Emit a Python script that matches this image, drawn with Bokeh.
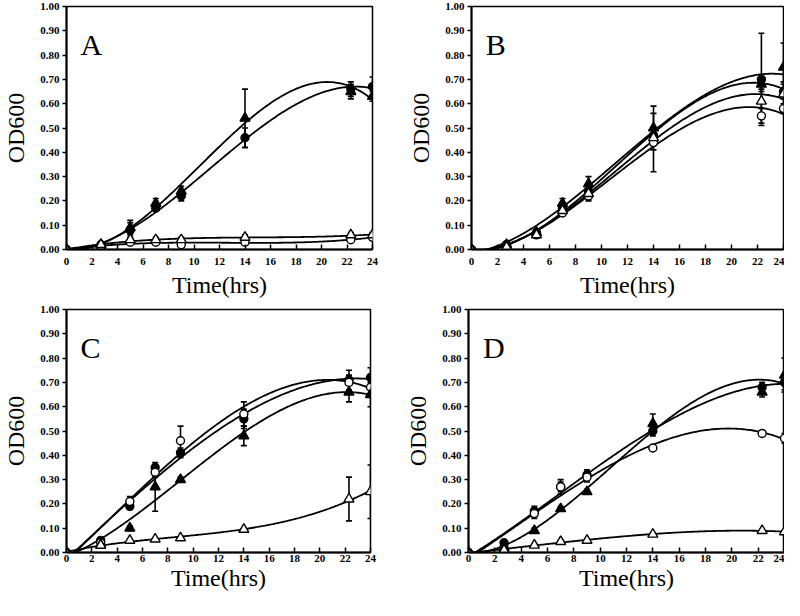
import numpy as np
from bokeh.plotting import figure
from bokeh.layouts import column, row
from bokeh.models import (ColumnDataSource, Whisker, TeeHead, Label, FixedTicker,
                          NumeralTickFormatter, Range1d)
from bokeh.embed import file_html
from bokeh.resources import INLINE

# ---------------- data ----------------
times = [0, 2.7, 5, 7, 9, 14, 22.3, 24]
x_ticks = [0, 2, 4, 6, 8, 10, 12, 14, 16, 18, 20, 22, 24]
y_ticks = [0.0, 0.1, 0.2, 0.3, 0.4, 0.5, 0.6, 0.7, 0.8, 0.9, 1.0]
panel_letters = ["A", "B", "C", "D"]

# Panel A
a_fc = [0.00, 0.02, 0.08, 0.17, 0.22, 0.46, 0.66, 0.67]
a_fc_err = [0.00, 0.01, 0.03, 0.01, 0.02, 0.04, 0.03, 0.04]
a_oc = [0.00, 0.01, 0.03, 0.03, 0.02, 0.03, 0.04, 0.05]
a_oc_err = [0.00, 0.005, 0.005, 0.005, 0.01, 0.01, 0.005, 0.005]
a_ft = [0.00, 0.02, 0.09, 0.19, 0.24, 0.54, 0.65, 0.63]
a_ft_err = [0.00, 0.01, 0.03, 0.02, 0.02, 0.12, 0.03, 0.02]
a_ot = [0.00, 0.02, 0.04, 0.04, 0.04, 0.05, 0.06, 0.06]
a_ot_err = [0.00, 0.005, 0.005, 0.01, 0.01, 0.01, 0.01, 0.01]

# Panel B
b_fc = [0.00, 0.02, 0.07, 0.17, 0.24, 0.47, 0.70, 0.65]
b_fc_err = [0.00, 0.01, 0.01, 0.02, 0.03, 0.03, 0.19, 0.03]
b_oc = [0.00, 0.02, 0.06, 0.15, 0.22, 0.44, 0.55, 0.58]
b_oc_err = [0.00, 0.01, 0.01, 0.01, 0.02, 0.12, 0.03, 0.02]
b_ft = [0.00, 0.02, 0.07, 0.19, 0.27, 0.50, 0.68, 0.75]
b_ft_err = [0.00, 0.01, 0.01, 0.02, 0.03, 0.09, 0.03, 0.10]
b_ot = [0.00, 0.01, 0.06, 0.16, 0.23, 0.46, 0.61, 0.64]
b_ot_err = [0.00, 0.01, 0.01, 0.01, 0.02, 0.02, 0.05, 0.05]

# Panel C
c_fc = [0.00, 0.05, 0.19, 0.35, 0.41, 0.55, 0.71, 0.72]
c_fc_err = [0.00, 0.01, 0.01, 0.01, 0.02, 0.04, 0.04, 0.04]
c_oc = [0.00, 0.04, 0.21, 0.33, 0.46, 0.57, 0.70, 0.68]
c_oc_err = [0.00, 0.01, 0.02, 0.02, 0.06, 0.05, 0.03, 0.03]
c_ft = [0.00, 0.03, 0.10, 0.27, 0.30, 0.48, 0.66, 0.65]
c_ft_err = [0.00, 0.01, 0.01, 0.10, 0.01, 0.04, 0.04, 0.05]
c_ot = [0.00, 0.03, 0.05, 0.055, 0.06, 0.095, 0.22, 0.25]
c_ot_err = [0.00, 0.01, 0.005, 0.005, 0.005, 0.005, 0.09, 0.11]

# Panel D
d_fc = [0.00, 0.04, 0.17, 0.27, 0.32, 0.50, 0.68, 0.70]
d_fc_err = [0.00, 0.01, 0.02, 0.03, 0.02, 0.02, 0.02, 0.03]
d_oc = [0.00, 0.02, 0.16, 0.27, 0.31, 0.43, 0.49, 0.47]
d_oc_err = [0.00, 0.01, 0.02, 0.02, 0.02, 0.01, 0.01, 0.02]
d_ft = [0.00, 0.02, 0.09, 0.18, 0.25, 0.53, 0.66, 0.73]
d_ft_err = [0.00, 0.01, 0.01, 0.01, 0.01, 0.04, 0.02, 0.07]
d_ot = [0.00, 0.01, 0.03, 0.045, 0.05, 0.075, 0.09, 0.085]
d_ot_err = [0.00, 0.005, 0.005, 0.005, 0.005, 0.005, 0.005, 0.005]

SERIF = "Liberation Serif"


def build(letter, series, borders, tick_standoff, xlabel_standoff, ylabel_standoff):
    left, right, top, bottom = borders
    p = figure(width=392, height=300, x_range=Range1d(0, 24), y_range=Range1d(0, 1),
               output_backend="svg", toolbar_location=None,
               min_border_left=left, min_border_right=right,
               min_border_top=top, min_border_bottom=bottom,
               background_fill_color="white", border_fill_color="white")
    p.xgrid.visible = False
    p.ygrid.visible = False
    p.outline_line_color = "black"
    p.outline_line_width = 1.5
    p.outline_line_alpha = 1.0

    p.xaxis.ticker = FixedTicker(ticks=x_ticks, minor_ticks=[])
    p.yaxis.ticker = FixedTicker(ticks=y_ticks, minor_ticks=[])
    p.yaxis.formatter = NumeralTickFormatter(format="0.00")
    for ax in (p.xaxis[0], p.yaxis[0]):
        ax.axis_line_width = 2
        ax.axis_line_color = "black"
        ax.major_tick_line_width = 1.5
        ax.major_tick_line_color = "black"
        ax.minor_tick_line_color = None
        ax.major_label_text_font = SERIF
        ax.major_label_text_font_style = "bold"
        ax.major_label_text_font_size = "11px"
        ax.major_label_text_color = "black"
        ax.axis_label_text_font = SERIF
        ax.axis_label_text_font_style = "normal"
        ax.axis_label_text_font_size = "24px"
        ax.axis_label_text_color = "black"
    p.xaxis.major_tick_in = 5
    p.xaxis.major_tick_out = 0
    p.yaxis.major_tick_in = 0
    p.yaxis.major_tick_out = 4
    p.xaxis.major_label_standoff = tick_standoff
    p.yaxis.major_label_standoff = 3
    p.xaxis.axis_label = "Time(hrs)"
    p.yaxis.axis_label = "OD600"
    p.xaxis.axis_label_standoff = xlabel_standoff
    p.yaxis.axis_label_standoff = ylabel_standoff

    xs = np.linspace(0, 24, 200)
    t = np.array(times, dtype=float)
    # fitted trend curves
    for vals, errs, marker, filled in series:
        coeffs = np.polyfit(t, np.array(vals, dtype=float), 3)
        p.line(xs, np.polyval(coeffs, xs), line_color="black", line_width=1.8)

    # error bars
    for vals, errs, marker, filled in series:
        v = np.array(vals, dtype=float)
        e = np.array(errs, dtype=float)
        m = e > 0
        src = ColumnDataSource(dict(base=t[m], upper=(v + e)[m], lower=(v - e)[m]))
        w = Whisker(source=src, base="base", upper="upper", lower="lower",
                    dimension="height", line_color="black", line_width=1.6,
                    upper_head=TeeHead(size=6, line_width=1.6, line_color="black"),
                    lower_head=TeeHead(size=6, line_width=1.6, line_color="black"))
        p.add_layout(w)

    # markers
    for vals, errs, marker, filled in series:
        size = 8 if marker == "circle" else 10
        p.scatter(times, vals, marker=marker, size=size,
                  fill_color="black" if filled else "white",
                  line_color="black", line_width=1.4)

    p.add_layout(Label(x=1.1, y=0.845, text=letter, text_font=SERIF,
                       text_font_size="30px", text_color="black",
                       text_baseline="alphabetic"))
    return p


def series_of(fc, fce, oc, oce, ft, fte, ot, ote):
    return [(fc, fce, "circle", True), (oc, oce, "circle", False),
            (ft, fte, "triangle", True), (ot, ote, "triangle", False)]


pA = build(panel_letters[0], series_of(a_fc, a_fc_err, a_oc, a_oc_err, a_ft, a_ft_err, a_ot, a_ot_err),
           (54, 20, 6, 51), 8, 4, 8)
pB = build(panel_letters[1], series_of(b_fc, b_fc_err, b_oc, b_oc_err, b_ft, b_ft_err, b_ot, b_ot_err),
           (79, 1, 6, 51), 8, 4, 8)
pC = build(panel_letters[2], series_of(c_fc, c_fc_err, c_oc, c_oc_err, c_ft, c_ft_err, c_ot, c_ot_err),
           (54, 22, 9, 48), 2, 0, 8)
pD = build(panel_letters[3], series_of(d_fc, d_fc_err, d_oc, d_oc_err, d_ft, d_ft_err, d_ot, d_ot_err),
           (76, 0, 9, 48), 2, 0, 8)

layout = column(row(pA, pB), row(pC, pD))
open("out.html", "w").write(file_html(layout, INLINE))
